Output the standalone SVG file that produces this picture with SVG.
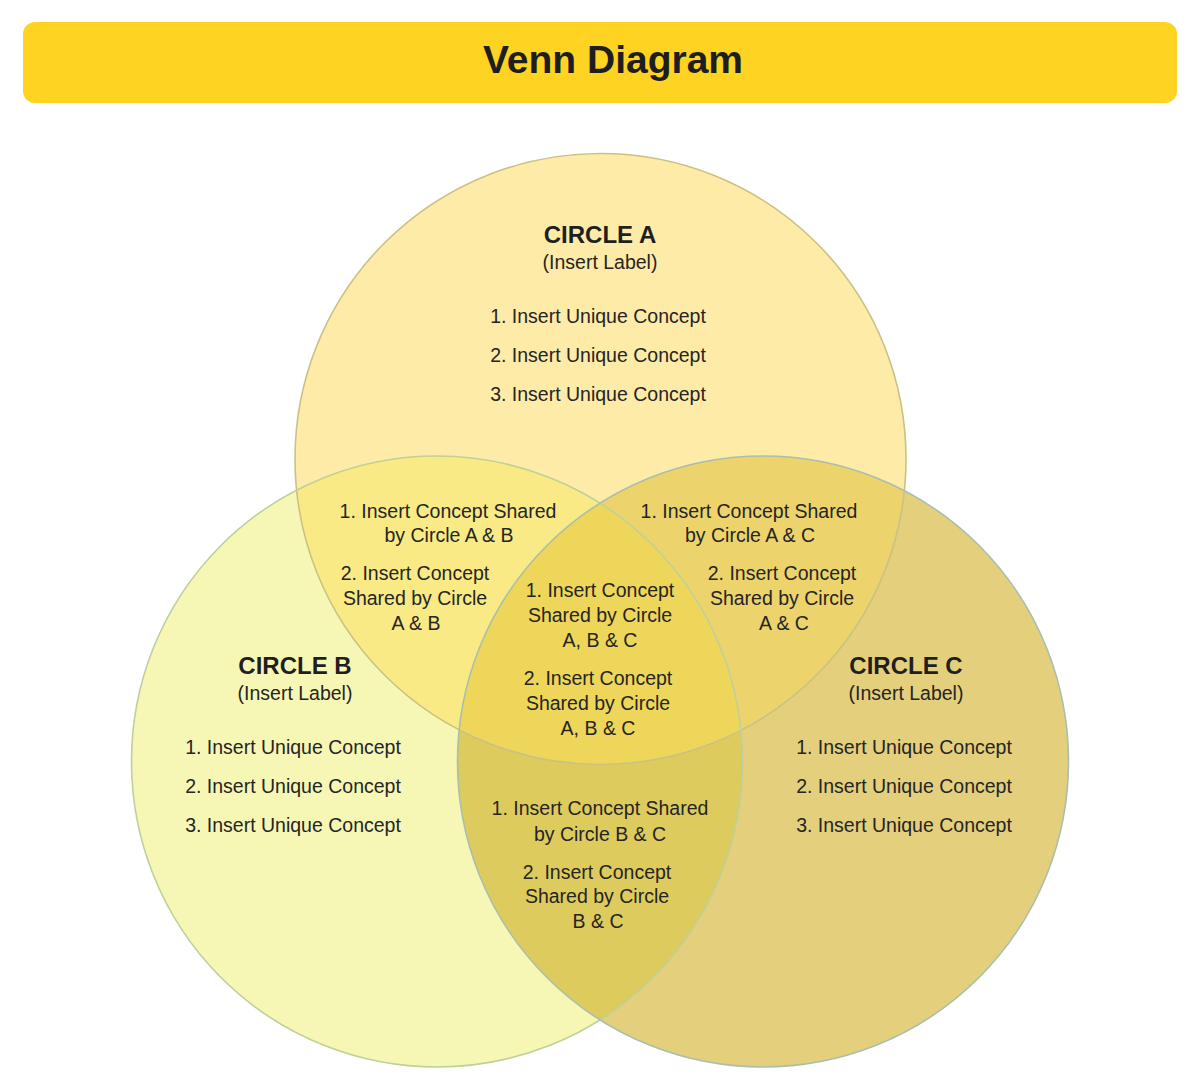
<svg xmlns="http://www.w3.org/2000/svg" width="1200" height="1090" viewBox="0 0 1200 1090">
<style>
text{font-family:"Liberation Sans",Arial,sans-serif;fill:#252525;text-anchor:middle}
.t{font-size:19.5px}
.h{font-size:24px;font-weight:bold;fill:#1f1f1f}
.title{font-size:39px;font-weight:bold;fill:#1e1e1e}
.ol{fill:none;stroke-width:1.6}
</style>
<defs>
<clipPath id="clipA"><circle cx="600.5" cy="459" r="305.5"/></clipPath>
<clipPath id="clipB"><circle cx="437" cy="761.5" r="305.5"/></clipPath>
</defs>
<rect width="1200" height="1090" fill="#ffffff"/>
<g id="header">
<rect x="23" y="22" width="1154" height="81" rx="12" fill="#FFD322"/>
<text class="title" x="613" y="73">Venn Diagram</text>
</g>
<g id="regions">
<circle cx="600.5" cy="459" r="305.5" fill="#FEEBA8"/>
<circle cx="437" cy="761.5" r="305.5" fill="#F6F7B5"/>
<circle cx="763" cy="761.5" r="305.5" fill="#E3CF7C"/>
<circle cx="437" cy="761.5" r="305.5" fill="#F9EA85" clip-path="url(#clipA)"/>
<circle cx="763" cy="761.5" r="305.5" fill="#EDD36C" clip-path="url(#clipA)"/>
<circle cx="763" cy="761.5" r="305.5" fill="#DECB5D" clip-path="url(#clipB)"/>
<g clip-path="url(#clipB)"><circle cx="763" cy="761.5" r="305.5" fill="#EED65A" clip-path="url(#clipA)"/></g>
<circle class="ol" cx="600.5" cy="459" r="305.5" stroke="#C9C283"/>
<circle class="ol" cx="437" cy="761.5" r="305.5" stroke="#BFD09A"/>
<circle class="ol" cx="763" cy="761.5" r="305.5" stroke="#A9BFAE"/>
</g>
<g id="circle-a">
<text class="h" x="600" y="243">CIRCLE A</text>
<text class="t" x="600" y="269">(Insert Label)</text>
<text class="t" x="598" y="323">1. Insert Unique Concept</text>
<text class="t" x="598" y="362">2. Insert Unique Concept</text>
<text class="t" x="598" y="401">3. Insert Unique Concept</text>
</g>
<g id="circle-b">
<text class="h" x="295" y="674">CIRCLE B</text>
<text class="t" x="295" y="700">(Insert Label)</text>
<text class="t" x="293" y="754">1. Insert Unique Concept</text>
<text class="t" x="293" y="793">2. Insert Unique Concept</text>
<text class="t" x="293" y="832">3. Insert Unique Concept</text>
</g>
<g id="circle-c">
<text class="h" x="906" y="674">CIRCLE C</text>
<text class="t" x="906" y="700">(Insert Label)</text>
<text class="t" x="904" y="754">1. Insert Unique Concept</text>
<text class="t" x="904" y="793">2. Insert Unique Concept</text>
<text class="t" x="904" y="832">3. Insert Unique Concept</text>
</g>
<g id="shared-ab">
<text class="t" x="448" y="518">1. Insert Concept Shared</text>
<text class="t" x="449" y="542">by Circle A &amp; B</text>
<text class="t" x="415" y="580">2. Insert Concept</text>
<text class="t" x="415" y="605">Shared by Circle</text>
<text class="t" x="416" y="630">A &amp; B</text>
</g>
<g id="shared-ac">
<text class="t" x="749" y="518">1. Insert Concept Shared</text>
<text class="t" x="750" y="542">by Circle A &amp; C</text>
<text class="t" x="782" y="580">2. Insert Concept</text>
<text class="t" x="782" y="605">Shared by Circle</text>
<text class="t" x="784" y="630">A &amp; C</text>
</g>
<g id="shared-abc">
<text class="t" x="600" y="597">1. Insert Concept</text>
<text class="t" x="600" y="622">Shared by Circle</text>
<text class="t" x="600" y="647">A, B &amp; C</text>
<text class="t" x="598" y="685">2. Insert Concept</text>
<text class="t" x="598" y="710">Shared by Circle</text>
<text class="t" x="598" y="735">A, B &amp; C</text>
</g>
<g id="shared-bc">
<text class="t" x="600" y="815">1. Insert Concept Shared</text>
<text class="t" x="600" y="841">by Circle B &amp; C</text>
<text class="t" x="597" y="879">2. Insert Concept</text>
<text class="t" x="597" y="903">Shared by Circle</text>
<text class="t" x="598" y="928">B &amp; C</text>
</g>
</svg>
